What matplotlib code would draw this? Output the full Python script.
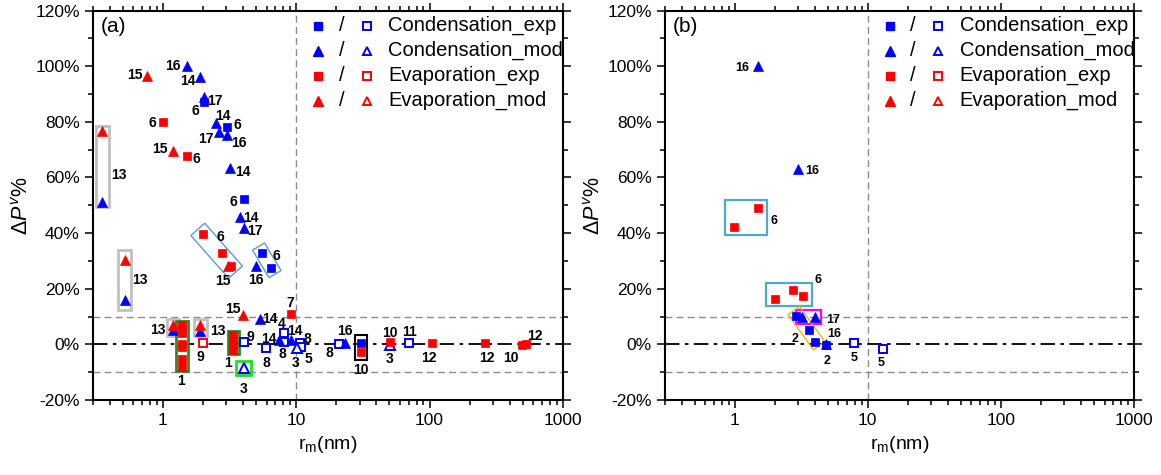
import numpy as np
import matplotlib.pyplot as plt
from matplotlib.patches import Polygon
from matplotlib.ticker import FuncFormatter, MultipleLocator, FixedLocator

plt.rcParams['font.family'] = ['Liberation Sans', 'DejaVu Sans']
plt.rcParams['mathtext.fontset'] = 'custom'
plt.rcParams['mathtext.rm'] = 'Liberation Sans'
plt.rcParams['mathtext.it'] = 'Liberation Sans:italic'

BLUE = '#0000ff'
RED = '#ff0000'
PX = 0.72  # points per pixel at dpi 100

# ---------------- panel (a) ----------------
a_cond_exp_x = [2.04, 3.03, 4.04, 5.56, 6.53, 30.5]
a_cond_exp_y = [87.0, 78.1, 52.1, 33.0, 27.4, 0.4]
a_cond_exp_lab = ['6', '6', '6', '6', '', '']

a_cond_exp_open_x = [4.04, 5.96, 8.08, 8.08, 10.7, 10.9, 20.9, 69.6]
a_cond_exp_open_y = [1.0, -1.4, 4.0, 1.0, 0.4, -0.8, 0.2, 0.6]
a_cond_exp_open_lab = ['9', '8', '4', '8', '8', '5', '8', '11']

a_cond_mod_x = [0.352, 0.52, 1.20, 1.91, 1.53, 1.91, 2.04, 2.52, 2.65, 3.03,
                3.21, 3.77, 4.04, 5.04, 5.33, 7.5, 9.19, 23.1]
a_cond_mod_y = [51.1, 16.0, 5.0, 4.8, 100.1, 96.2, 88.8, 79.6, 76.2, 75.2,
                63.5, 45.9, 41.7, 28.3, 9.2, 1.6, 1.6, 0.6]
a_cond_mod_lab = ['', '', '', '', '16', '14', '17', '14', '17', '16',
                  '14', '14', '17', '16', '14', '14', '14', '16']

a_cond_mod_open_x = [4.04, 10.2, 50.4]
a_cond_mod_open_y = [-8.5, -1.4, -0.2]
a_cond_mod_open_lab = ['3', '3', '3']

a_evap_exp_x = [1.01, 1.53, 2.0, 2.78, 3.27, 9.08,
                1.39, 1.39, 1.39, 1.39, 1.39, 1.39, 1.39,
                3.38, 3.38, 3.38, 3.38,
                30.5, 50.4, 103.7, 262, 492, 525]
a_evap_exp_y = [80.0, 67.8, 39.6, 32.7, 28.0, 11.0,
                7.0, 5.4, 4.0, 0.0, -1.0, -5.2, -8.0,
                3.4, 1.6, -0.2, -2.0,
                -2.9, 0.8, 0.4, 0.4, -0.3, 0.3]
a_evap_exp_lab = ['6', '6', '6', '', '', '7',
                  '', '', '', '', '', '', '',
                  '', '', '', '',
                  '', '10', '12', '12', '10', '12']

a_evap_exp_open_x = [2.02]
a_evap_exp_open_y = [0.4]
a_evap_exp_open_lab = ['9']

a_evap_mod_x = [0.352, 0.76, 1.20, 0.52, 3.06, 1.20, 1.91, 4.0]
a_evap_mod_y = [76.7, 96.4, 69.7, 30.3, 28.0, 7.0, 7.0, 10.6]
a_evap_mod_lab = ['', '15', '15', '', '15', '13', '13', '15']

# ---------------- panel (b) ----------------
b_cond_exp_x = [2.91, 3.62, 4.0, 4.85]
b_cond_exp_y = [10.2, 5.2, 1.0, -0.3]
b_cond_exp_lab = ['', '2', '', '2']

b_cond_exp_open_x = [7.85, 12.9]
b_cond_exp_open_y = [0.6, -1.7]
b_cond_exp_open_lab = ['5', '5']

b_cond_mod_x = [1.51, 2.99, 3.23, 4.0, 4.89]
b_cond_mod_y = [100.0, 63.0, 9.8, 9.8, 0.2]
b_cond_mod_lab = ['16', '16', '', '17', '16']

b_evap_exp_x = [0.99, 1.50, 2.0, 2.74, 3.26]
b_evap_exp_y = [42.3, 48.9, 16.2, 19.6, 17.4]

legend_names = ['Condensation_exp', 'Condensation_mod', 'Evaporation_exp', 'Evaporation_mod']

# label placement, pixel offsets of the label centre from its point (y down)
a_cond_exp_off = [(-9, 7), (10, -4), (-10, 1), (14, 2), None, None]
a_cond_exp_open_off = [(7, -6), (0, 13), (-2, -11), (-1, 11), (7, -6), (7, 11), (-9, 8), (1, -12)]
a_cond_mod_off = [None, None, None, None, (-15, -1), (-12, 3), (11, 2), (7, -8), (-13, 5), (12, 6),
                  (13, 3), (11, 0), (11, 1), (-1, 13), (10, -1), (-11, -2), (4, -10), (0, -13)]
a_cond_mod_open_off = [(0, 20), (-2, 13), (0, 13)]
a_evap_exp_off = [(-11, 0), (9, 2), (17, 1), None, None, (0, -12)] + [None] * 12 + \
                 [(0, -11), (-3, 13), (1, 13), (-11, 11), (9, -9)]
a_evap_exp_open_off = [(-3, 12)]
a_evap_mod_off = [None, (-12, -3), (-13, -3), None, (-5, 13), (-15, 4), (18, 5), (-10, -7)]

b_cond_exp_off = [None, (-14, 8), None, (1, 14)]
b_cond_exp_open_off = [(0, 14), (-1, 12)]
b_cond_mod_off = [(-16, 0), (14, 0), None, (18, 1), (8, -11)]


def draw(ax, xs, ys, color, marker, filled, ms):
    ax.plot(xs, ys, ls='none', marker=marker, ms=ms,
            mfc=color if filled else 'white', mec=color,
            mew=0.5 if filled else 1.4, zorder=3, clip_on=False)


def labels(ax, xs, ys, texts, offs, size):
    for x, y, t, o in zip(xs, ys, texts, offs):
        if not t:
            continue
        ax.annotate(t, (x, y), xytext=(o[0] * PX, -o[1] * PX), textcoords='offset points',
                    ha='center', va='center_baseline', fontsize=size, fontweight='bold', zorder=5)


def frame(ax, xs, ys, color, pad, lw=1.5, rotated=False, text=None, off=(0, 0), size=10):
    pts = ax.transData.transform(np.column_stack([xs, ys]))
    if rotated:
        u = pts[-1] - pts[0]
        u = u / np.hypot(*u)
        n = np.array([-u[1], u[0]])
        pu, pn = pts @ u, pts @ n
        a0, a1 = pu.min() - pad[0], pu.max() + pad[0]
        b0, b1 = pn.min() - pad[1], pn.max() + pad[1]
        corners = np.array([a * u + b * n for a, b in [(a0, b0), (a1, b0), (a1, b1), (a0, b1)]])
    else:
        (x0, y0), (x1, y1) = pts.min(0) - pad, pts.max(0) + pad
        corners = np.array([(x0, y0), (x1, y0), (x1, y1), (x0, y1)])
    ax.add_patch(Polygon(ax.transData.inverted().transform(corners), closed=True,
                         fill=False, edgecolor=color, lw=lw, zorder=2.5))
    if text:
        cx, cy = ax.transData.inverted().transform(corners.mean(0))
        ax.annotate(text, (cx, cy), xytext=(off[0] * PX, -off[1] * PX), textcoords='offset points',
                    ha='center', va='center_baseline', fontsize=size, fontweight='bold')


def setup(ax, tag):
    ax.set_xscale('log')
    ax.set_xlim(0.3, 1000)
    ax.set_ylim(-20, 120)
    ax.xaxis.set_major_locator(FixedLocator([1, 10, 100, 1000]))
    ax.xaxis.set_major_formatter(FuncFormatter(lambda v, p: f'{v:g}'))
    ax.yaxis.set_major_locator(MultipleLocator(20))
    ax.yaxis.set_minor_locator(MultipleLocator(10))
    ax.yaxis.set_major_formatter(FuncFormatter(lambda v, p: f'{v:.0f}%'))
    ax.tick_params(which='both', direction='out', top=True, right=True, labelsize=12.5, width=1.1)
    ax.tick_params(which='major', length=6)
    ax.tick_params(which='minor', length=3.5)
    for s in ax.spines.values():
        s.set_linewidth(1.5)
    ax.axhline(10, color='#8c8c8c', lw=1, ls=(0, (5, 3)), zorder=1)
    ax.axhline(-10, color='#8c8c8c', lw=1, ls=(0, (5, 3)), zorder=1)
    ax.axvline(10, color='#8c8c8c', lw=1, ls=(0, (5, 3)), zorder=1)
    ax.axhline(0, color='black', lw=1.3, ls=(0, (8, 3, 2, 3)), zorder=1)
    ax.set_xlabel(r'r$_\mathrm{m}$(nm)', fontsize=14)
    ax.set_ylabel(r'$\Delta P^{v}$%', fontsize=15.5, labelpad=2)
    ax.text(0.017, 0.958, tag, transform=ax.transAxes, fontsize=15, va='center')

    # legend: filled / open marker pairs
    rows = [0.961, 0.897, 0.833, 0.769]
    keys = [(BLUE, 's', 6), (BLUE, '^', 7.5), (RED, 's', 6), (RED, '^', 7.5)]
    for yy, (c, m, ms), name in zip(rows, keys, legend_names):
        ax.plot([0.479], [yy], transform=ax.transAxes, marker=m, ms=ms * 0.9, mfc=c, mec=c, ls='none')
        ax.plot([0.582], [yy], transform=ax.transAxes, marker=m, ms=ms * 0.85, mfc='white', mec=c,
                mew=1.4, ls='none')
        ax.text(0.529, yy, '/', transform=ax.transAxes, fontsize=14.5, ha='center', va='center')
        ax.text(0.628, yy, name, transform=ax.transAxes, fontsize=14.5, ha='left', va='center')


fig = plt.figure(figsize=(11.61, 4.75), dpi=100)
ax_a = fig.add_axes([0.0801, 0.158, 0.4048, 0.8196])
ax_b = fig.add_axes([0.5728, 0.158, 0.4040, 0.8196])
setup(ax_a, '(a)')
setup(ax_b, '(b)')

# ---- panel (a) marks ----
draw(ax_a, a_cond_exp_x, a_cond_exp_y, BLUE, 's', True, 6.3)
draw(ax_a, a_cond_exp_open_x, a_cond_exp_open_y, BLUE, 's', False, 5.8)
draw(ax_a, a_cond_mod_x, a_cond_mod_y, BLUE, '^', True, 7.5)
draw(ax_a, a_cond_mod_open_x, a_cond_mod_open_y, BLUE, '^', False, 7)
draw(ax_a, a_evap_exp_x, a_evap_exp_y, RED, 's', True, 6.3)
draw(ax_a, a_evap_exp_open_x, a_evap_exp_open_y, RED, 's', False, 5.8)
draw(ax_a, a_evap_mod_x, a_evap_mod_y, RED, '^', True, 7.5)

labels(ax_a, a_cond_exp_x, a_cond_exp_y, a_cond_exp_lab, a_cond_exp_off, 10)
labels(ax_a, a_cond_exp_open_x, a_cond_exp_open_y, a_cond_exp_open_lab, a_cond_exp_open_off, 10)
labels(ax_a, a_cond_mod_x, a_cond_mod_y, a_cond_mod_lab, a_cond_mod_off, 10)
labels(ax_a, a_cond_mod_open_x, a_cond_mod_open_y, a_cond_mod_open_lab, a_cond_mod_open_off, 10)
labels(ax_a, a_evap_exp_x, a_evap_exp_y, a_evap_exp_lab, a_evap_exp_off, 10)
labels(ax_a, a_evap_exp_open_x, a_evap_exp_open_y, a_evap_exp_open_lab, a_evap_exp_open_off, 10)
labels(ax_a, a_evap_mod_x, a_evap_mod_y, a_evap_mod_lab, a_evap_mod_off, 10)

GRAY = '#c0c0c0'
frame(ax_a, [a_evap_mod_x[0], a_cond_mod_x[0]], [a_evap_mod_y[0], a_cond_mod_y[0]], GRAY, (6.5, 5),
      lw=2, text='13', off=(16.5, 7))
frame(ax_a, [a_evap_mod_x[3], a_cond_mod_x[1]], [a_evap_mod_y[3], a_cond_mod_y[1]], GRAY, (6.5, 10),
      lw=2, text='13', off=(15.5, -1.5))
frame(ax_a, [a_evap_mod_x[5], a_cond_mod_x[2]], [a_evap_mod_y[5], a_cond_mod_y[2]], GRAY, (6, 6), lw=2)
frame(ax_a, [a_evap_mod_x[6], a_cond_mod_x[3]], [a_evap_mod_y[6], a_cond_mod_y[3]], GRAY, (6.5, 5.5), lw=2)
frame(ax_a, a_evap_exp_x[6:13], a_evap_exp_y[6:13], '#2a8a2a', (6, 4), lw=2, text='1', off=(-1, 34))
frame(ax_a, a_evap_exp_x[13:17], a_evap_exp_y[13:17], '#2a8a2a', (5.5, 4), lw=2, text='1', off=(-5, 19))
frame(ax_a, a_cond_mod_open_x[:1], a_cond_mod_open_y[:1], '#22dd22', (7.5, 7), lw=2)
frame(ax_a, [a_cond_exp_x[5], a_evap_exp_x[17]], [a_cond_exp_y[5], a_evap_exp_y[17]], 'black', (6, 8),
      lw=1.5, text='10', off=(0, 21))
frame(ax_a, [a_evap_exp_x[2], a_evap_exp_x[3], a_evap_mod_x[4], a_evap_exp_x[4]],
      [a_evap_exp_y[2], a_evap_exp_y[3], a_evap_mod_y[4], a_evap_exp_y[4]],
      '#5b9bd5', (7, 7), lw=1, rotated=True)
frame(ax_a, a_cond_exp_x[3:5], a_cond_exp_y[3:5], '#5b9bd5', (7, 7), lw=1, rotated=True)

# ---- panel (b) marks ----
draw(ax_b, b_cond_exp_x, b_cond_exp_y, BLUE, 's', True, 6)
draw(ax_b, b_cond_exp_open_x, b_cond_exp_open_y, BLUE, 's', False, 5.5)
draw(ax_b, b_cond_mod_x, b_cond_mod_y, BLUE, '^', True, 7)
draw(ax_b, b_evap_exp_x, b_evap_exp_y, RED, 's', True, 6)

labels(ax_b, b_cond_exp_x, b_cond_exp_y, b_cond_exp_lab, b_cond_exp_off, 9)
labels(ax_b, b_cond_exp_open_x, b_cond_exp_open_y, b_cond_exp_open_lab, b_cond_exp_open_off, 9)
labels(ax_b, b_cond_mod_x, b_cond_mod_y, b_cond_mod_lab, b_cond_mod_off, 9)

CYAN = '#4bacc6'
frame(ax_b, b_evap_exp_x[:2], b_evap_exp_y[:2], CYAN, (9, 8), lw=1.6, text='6', off=(28, 2), size=9)
frame(ax_b, b_evap_exp_x[2:], b_evap_exp_y[2:], CYAN, (9, 7), lw=1.6, text='6', off=(29, -16), size=9)
frame(ax_b, b_cond_mod_x[2:4], b_cond_mod_y[2:4], '#ff00ff', (6, 7), lw=1.6)
frame(ax_b, b_cond_exp_x[:3], b_cond_exp_y[:3], '#ffb000', (6, 6), lw=1, rotated=True)

fig.savefig('out.png', dpi=100)
